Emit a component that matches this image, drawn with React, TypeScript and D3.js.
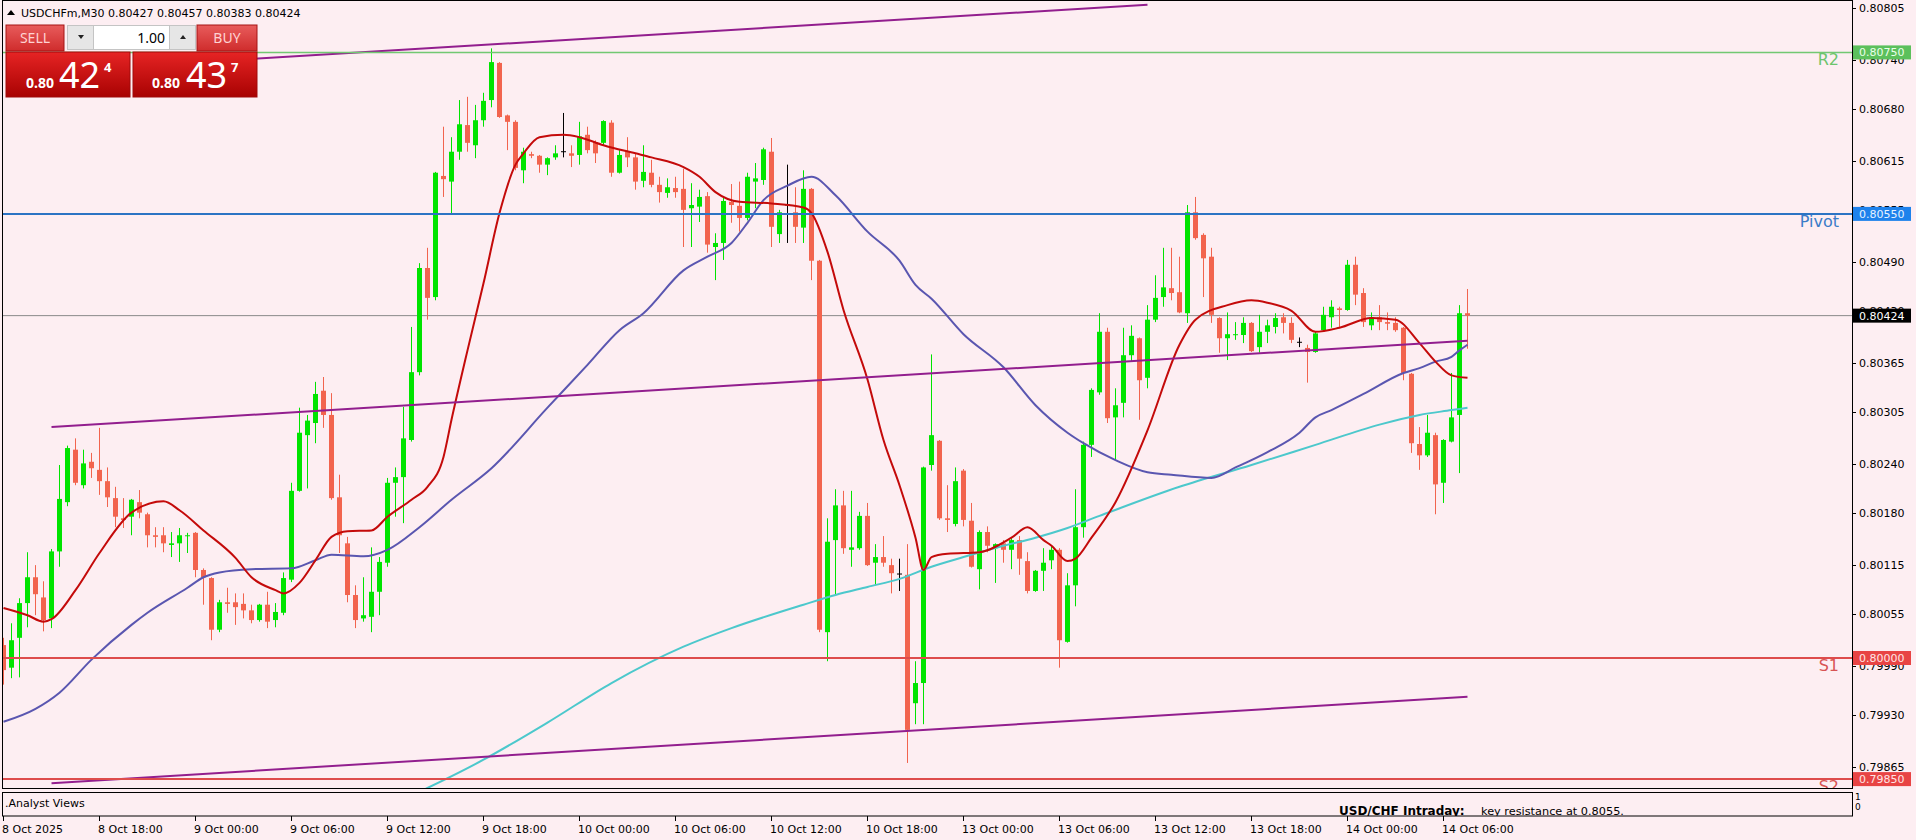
import React, { useEffect } from "react";
import * as d3 from "d3";

// ---------- DATA ----------
const symbolTitle = "USDCHFm,M30";

const opens = [
  0.80016,0.79988,0.80025,0.80068,0.80100,0.80075,0.80049,0.80132,0.80193,0.80258,
  0.80214,0.80243,0.80233,0.80219,0.80198,0.80173,0.80175,0.80193,0.80178,0.80152,
  0.80152,0.80140,0.80142,0.80151,0.80155,0.80109,0.80099,0.80035,0.80069,0.80069,
  0.80067,0.80059,0.80047,0.80066,0.80047,0.80056,0.80097,0.80207,0.80276,0.80291,
  0.80331,0.80301,0.80199,0.80142,0.80078,0.80049,0.80051,0.80082,0.80118,0.80217,
  0.80224,0.80270,0.80354,0.80483,0.80447,0.80597,0.80590,0.80627,0.80660,0.80635,
  0.80666,0.80691,0.80737,0.80672,0.80664,0.80604,0.80624,0.80622,0.80611,0.80620,
  0.80627,0.80625,0.80623,0.80648,0.80639,0.80638,0.80663,0.80601,0.80627,0.80620,
  0.80591,0.80601,0.80586,0.80576,0.80582,0.80581,0.80557,0.80559,0.80572,0.80509,
  0.80514,0.80565,0.80560,0.80545,0.80590,0.80592,0.80627,0.80525,0.80561,0.80552,
  0.80533,0.80581,0.80492,0.80032,0.80146,0.80189,0.80134,0.80136,0.80176,0.80118,
  0.80125,0.80115,0.80104,0.80103,0.79944,0.79969,0.80239,0.80269,0.80173,0.80166,
  0.80232,0.80170,0.80110,0.80156,0.80136,0.80142,0.80134,0.80146,0.80120,0.80083,
  0.80108,0.80121,0.80134,0.80020,0.80090,0.80162,0.80264,0.80329,0.80404,0.80298,
  0.80316,0.80375,0.80396,0.80347,0.80419,0.80447,0.80458,0.80453,0.80427,0.80552,
  0.80524,0.80497,0.80421,0.80396,0.80400,0.80400,0.80415,0.80385,0.80404,0.80410,
  0.80422,0.80415,0.80391,0.80384,0.80379,0.80406,0.80422,0.80433,0.80431,0.80487,
  0.80452,0.80412,0.80422,0.80416,0.80415,0.80409,0.80352,0.80265,0.80251,0.80276,
  0.80217,0.80268,0.80301,0.80427,
];
const highs = [
  0.80025,0.80043,0.80074,0.80131,0.80115,0.80095,0.80135,0.80239,0.80263,0.80272,
  0.80258,0.80254,0.80285,0.80236,0.80212,0.80198,0.80197,0.80208,0.80180,0.80162,
  0.80162,0.80156,0.80161,0.80155,0.80156,0.80111,0.80100,0.80072,0.80087,0.80080,
  0.80080,0.80066,0.80067,0.80082,0.80068,0.80106,0.80217,0.80310,0.80301,0.80342,
  0.80348,0.80328,0.80227,0.80150,0.80090,0.80100,0.80137,0.80125,0.80223,0.80236,
  0.80311,0.80410,0.80489,0.80508,0.80602,0.80658,0.80645,0.80691,0.80695,0.80685,
  0.80700,0.80755,0.80738,0.80673,0.80666,0.80632,0.80627,0.80623,0.80620,0.80635,
  0.80675,0.80635,0.80664,0.80658,0.80641,0.80666,0.80666,0.80629,0.80645,0.80625,
  0.80635,0.80617,0.80596,0.80594,0.80596,0.80606,0.80588,0.80580,0.80577,0.80526,
  0.80570,0.80587,0.80590,0.80601,0.80613,0.80632,0.80644,0.80555,0.80611,0.80583,
  0.80604,0.80582,0.80493,0.80173,0.80209,0.80207,0.80207,0.80181,0.80192,0.80141,
  0.80151,0.80123,0.80123,0.80141,0.79996,0.80237,0.80376,0.80270,0.80214,0.80236,
  0.80234,0.80192,0.80158,0.80163,0.80142,0.80146,0.80149,0.80151,0.80131,0.80109,
  0.80136,0.80139,0.80136,0.80105,0.80209,0.80268,0.80334,0.80427,0.80409,0.80334,
  0.80409,0.80412,0.80397,0.80437,0.80474,0.80508,0.80508,0.80497,0.80561,0.80571,
  0.80526,0.80508,0.80422,0.80428,0.80416,0.80422,0.80416,0.80425,0.80419,0.80427,
  0.80427,0.80422,0.80397,0.80388,0.80404,0.80435,0.80443,0.80435,0.80493,0.80497,
  0.80458,0.80428,0.80437,0.80428,0.80422,0.80410,0.80353,0.80286,0.80301,0.80279,
  0.80271,0.80353,0.80437,0.80457,
];
const lows = [
  0.79967,0.79975,0.79976,0.80038,0.80053,0.80033,0.80037,0.80113,0.80188,0.80214,
  0.80210,0.80223,0.80202,0.80187,0.80162,0.80161,0.80152,0.80173,0.80137,0.80137,
  0.80131,0.80125,0.80119,0.80130,0.80100,0.80066,0.80022,0.80032,0.80056,0.80041,
  0.80049,0.80043,0.80045,0.80037,0.80038,0.80053,0.80094,0.80206,0.80210,0.80266,
  0.80285,0.80196,0.80130,0.80069,0.80037,0.80045,0.80032,0.80053,0.80113,0.80175,
  0.80167,0.80268,0.80350,0.80419,0.80443,0.80571,0.80551,0.80617,0.80627,0.80619,
  0.80658,0.80682,0.80669,0.80629,0.80604,0.80588,0.80619,0.80601,0.80598,0.80617,
  0.80620,0.80608,0.80611,0.80625,0.80613,0.80635,0.80596,0.80600,0.80608,0.80580,
  0.80583,0.80583,0.80564,0.80570,0.80570,0.80509,0.80509,0.80540,0.80502,0.80468,
  0.80493,0.80539,0.80528,0.80542,0.80557,0.80586,0.80509,0.80514,0.80514,0.80514,
  0.80514,0.80468,0.80032,0.79996,0.80078,0.80129,0.80113,0.80134,0.80114,0.80090,
  0.80113,0.80080,0.80083,0.79870,0.79918,0.79918,0.80232,0.80171,0.80156,0.80163,
  0.80163,0.80112,0.80085,0.80131,0.80093,0.80118,0.80110,0.80103,0.80080,0.80082,
  0.80083,0.80110,0.79988,0.80019,0.80064,0.80149,0.80249,0.80326,0.80291,0.80245,
  0.80298,0.80367,0.80295,0.80334,0.80416,0.80435,0.80443,0.80427,0.80415,0.80518,
  0.80447,0.80415,0.80378,0.80369,0.80394,0.80390,0.80379,0.80378,0.80390,0.80402,
  0.80402,0.80390,0.80385,0.80341,0.80378,0.80404,0.80409,0.80410,0.80430,0.80437,
  0.80410,0.80406,0.80406,0.80406,0.80404,0.80344,0.80254,0.80233,0.80249,0.80178,
  0.80192,0.80267,0.80229,0.80383,
];
const closes = [
  0.79985,0.80022,0.80068,0.80100,0.80079,0.80047,0.80132,0.80197,0.80260,0.80217,
  0.80241,0.80235,0.80219,0.80199,0.80175,0.80171,0.80196,0.80180,0.80152,0.80150,
  0.80142,0.80142,0.80152,0.80152,0.80109,0.80100,0.80035,0.80069,0.80067,0.80063,
  0.80059,0.80047,0.80066,0.80045,0.80057,0.80099,0.80207,0.80279,0.80294,0.80327,
  0.80301,0.80198,0.80152,0.80078,0.80047,0.80053,0.80082,0.80119,0.80217,0.80224,
  0.80272,0.80354,0.80483,0.80446,0.80601,0.80593,0.80627,0.80661,0.80638,0.80666,
  0.80690,0.80738,0.80670,0.80664,0.80607,0.80627,0.80622,0.80611,0.80619,0.80625,
  0.80627,0.80622,0.80646,0.80629,0.80625,0.80665,0.80601,0.80623,0.80620,0.80590,
  0.80602,0.80586,0.80577,0.80583,0.80577,0.80555,0.80561,0.80571,0.80512,0.80514,
  0.80566,0.80561,0.80545,0.80596,0.80594,0.80630,0.80534,0.80552,0.80561,0.80534,
  0.80581,0.80492,0.80035,0.80144,0.80189,0.80136,0.80137,0.80176,0.80115,0.80125,
  0.80118,0.80105,0.80104,0.79911,0.79969,0.80236,0.80276,0.80173,0.80171,0.80219,
  0.80171,0.80113,0.80156,0.80139,0.80141,0.80134,0.80146,0.80123,0.80083,0.80108,
  0.80118,0.80134,0.80022,0.80090,0.80162,0.80264,0.80332,0.80404,0.80297,0.80313,
  0.80375,0.80399,0.80344,0.80419,0.80446,0.80459,0.80452,0.80428,0.80552,0.80520,
  0.80495,0.80425,0.80396,0.80401,0.80401,0.80415,0.80380,0.80404,0.80412,0.80421,
  0.80415,0.80394,0.80391,0.80379,0.80402,0.80425,0.80435,0.80431,0.80487,0.80450,
  0.80416,0.80422,0.80416,0.80414,0.80406,0.80353,0.80266,0.80251,0.80279,0.80215,
  0.80270,0.80298,0.80427,0.80424,
];

// Moving averages at bar indices
const redMaIdx = [0,3,5,6,9,12,16,20,22,25,29,31,34,35,37,39,41,43,46,48,51,53,55,56,58,60,62,64,65,67,70,72,75,79,81,85,87,89,92,96,100,101,103,105,108,110,112,114,115,116,118,122,126,128,130,131,133,134,136,139,143,147,149,153,156,158,161,164,167,171,174,177,179,181,183];
const redMaVal = [0.80062,0.80053,0.80045,0.80048,0.80084,0.80130,0.80180,0.80194,0.80183,0.80158,0.80124,0.80100,0.80084,0.80080,0.80093,0.80121,0.80150,0.80157,0.80158,0.80175,0.80196,0.80212,0.80249,0.80295,0.80381,0.80464,0.80551,0.80611,0.80625,0.80645,0.80648,0.80645,0.80635,0.80625,0.80620,0.80608,0.80596,0.80577,0.80565,0.80563,0.80558,0.80551,0.80503,0.80431,0.80345,0.80270,0.80214,0.80149,0.80109,0.80125,0.80129,0.80131,0.80149,0.80162,0.80146,0.80139,0.80120,0.80123,0.80149,0.80193,0.80282,0.80388,0.80419,0.80437,0.80443,0.80440,0.80430,0.80404,0.80409,0.80421,0.80419,0.80390,0.80367,0.80350,0.80347];

const blueMaIdx = [0,4,7,11,16,18,23,25,27,31,36,39,41,45,48,52,56,61,68,73,77,80,85,88,91,93,95,98,101,104,108,112,114,116,120,125,129,133,135,139,143,146,151,154,158,162,164,166,170,175,177,179,181,182,183];
const blueMaVal = [0.79921,0.79937,0.79957,0.79998,0.80041,0.80056,0.80087,0.80100,0.80106,0.80110,0.80111,0.80121,0.80128,0.80126,0.80134,0.80162,0.80196,0.80235,0.80310,0.80363,0.80406,0.80427,0.80480,0.80497,0.80514,0.80539,0.80567,0.80585,0.80596,0.80573,0.80528,0.80492,0.80462,0.80445,0.80401,0.80360,0.80313,0.80279,0.80266,0.80245,0.80230,0.80227,0.80223,0.80236,0.80255,0.80279,0.80298,0.80307,0.80327,0.80353,0.80359,0.80367,0.80373,0.80381,0.80388];

const cyanMaIdx = [50,53,60,68,76,85,91,100,104,108,112,116,120,125,129,133,137,147,156,164,172,177,181,183];
const cyanMaVal = [0.79825,0.79839,0.79874,0.79920,0.79969,0.80014,0.80037,0.80066,0.80078,0.80088,0.80098,0.80113,0.80125,0.80139,0.80149,0.80161,0.80176,0.80212,0.80239,0.80264,0.80289,0.80301,0.80307,0.80310];

// Channel trendlines
const trendStartIdx = [26, 6, 6];
const trendStartVal = [0.80739, 0.80286, 0.79845];
const trendEndIdx = [143, 183, 183];
const trendEndVal = [0.80809, 0.80393, 0.79952];

// Pivot levels
const levelNames = ["R2", "Pivot", "S1", "S2"];
const levelValues = [0.8075, 0.8055, 0.8, 0.7985];

const priceTicks = [0.80805,0.8074,0.8068,0.80615,0.80555,0.8049,0.8043,0.80365,0.80305,0.8024,0.8018,0.80115,0.80055,0.7999,0.7993,0.79865];

const timeLabels = ["8 Oct 2025","8 Oct 18:00","9 Oct 00:00","9 Oct 06:00","9 Oct 12:00","9 Oct 18:00","10 Oct 00:00","10 Oct 06:00","10 Oct 12:00","10 Oct 18:00","13 Oct 00:00","13 Oct 06:00","13 Oct 12:00","13 Oct 18:00","14 Oct 00:00","14 Oct 06:00"];
const timeIdx = [0,12,24,36,48,60,72,84,96,108,120,132,144,156,168,180];

const bidPrice = 0.80424;
const askPrice = 0.80437;
const lotSize = "1.00";
const analystTitle = "USD/CHF Intraday:";
const analystText = "key resistance at 0.8055.";

// ---------- STYLE ----------
const BG = "#fdeef2";
const BULL = "#00e400";
const BEAR = "#f2644e";
const levelColors = ["#72c872", "#2c74c4", "#de4c4c", "#de4c4c"];
const levelLabelColors = ["#6cc46c", "#3a7cc8", "#d85454", "#d85454"];
const boxColors = ["#5cc05c", "#1e82ec", "#e84444", "#e84444"];
const boxText = ["#eaffea", "#e6f2ff", "#ffe4e4", "#ffe4e4"];
const FONT = "'DejaVu Sans', sans-serif";

export default function App() {
  useEffect(() => {
    document.body.style.margin = "0";
    document.body.style.background = BG;
  }, []);

  const last = opens.length - 1;
  const x = d3.scaleLinear().domain([0, last]).range([3.5, 1467.5]);
  const y = d3.scaleLinear().domain([0.79865, 0.80805]).range([767, 8]);

  const maPath = (idx: number[], val: number[]) =>
    d3
      .line<number>()
      .x((k) => x(idx[k]))
      .y((k) => y(val[k]))
      .curve(d3.curveMonotoneX)(idx.map((_, k) => k)) || "";

  const plotL = 3, plotR = 1852, plotT = 1, plotB = 788;
  const subT = 792.5, subB = 816;

  const fmt = (v: number) => v.toFixed(5);
  const bidStr = fmt(bidPrice);
  const askStr = fmt(askPrice);

  return (
    <svg
      width={1916}
      height={840}
      style={{ position: "absolute", left: 0, top: 0, background: BG, fontFamily: FONT }}
    >
      <defs>
        <clipPath id="plot">
          <rect x={plotL} y={plotT} width={plotR - plotL} height={plotB - plotT} />
        </clipPath>
        <clipPath id="sub">
          <rect x={plotL} y={subT} width={plotR - plotL} height={subB - subT} />
        </clipPath>
        <linearGradient id="hdr" x1="0" y1="0" x2="0" y2="1">
          <stop offset="0%" stopColor="#e85c5c" />
          <stop offset="100%" stopColor="#cf2c2c" />
        </linearGradient>
        <linearGradient id="pbox" x1="0" y1="0" x2="0" y2="1">
          <stop offset="0%" stopColor="#e62424" />
          <stop offset="100%" stopColor="#a80202" />
        </linearGradient>
      </defs>

      <rect x={0} y={0} width={1916} height={840} fill={BG} />

      <g clipPath="url(#plot)">
        {/* current price line */}
        <line x1={plotL} x2={plotR} y1={y(closes[last])} y2={y(closes[last])} stroke="#8a8a8a" strokeWidth={1} />

        {/* candles */}
        {opens.map((o, i) => {
          const c = closes[i];
          const col = c > o ? BULL : c < o ? BEAR : "#000";
          const cx = x(i);
          const top = y(Math.max(o, c));
          const bot = y(Math.min(o, c));
          return (
            <g key={i}>
              <line x1={cx} x2={cx} y1={y(highs[i])} y2={y(lows[i])} stroke={col} strokeWidth={1} />
              {c === o ? (
                <line x1={cx - 2.5} x2={cx + 2.5} y1={top} y2={top} stroke={col} strokeWidth={1} />
              ) : (
                <rect x={cx - 2.5} y={top} width={5} height={Math.max(1, bot - top)} fill={col} />
              )}
            </g>
          );
        })}

        {/* moving averages */}
        <path d={maPath(cyanMaIdx, cyanMaVal)} fill="none" stroke="#4cc8cc" strokeWidth={2} />
        <path d={maPath(blueMaIdx, blueMaVal)} fill="none" stroke="#5a56b0" strokeWidth={2} />
        <path d={maPath(redMaIdx, redMaVal)} fill="none" stroke="#c40a0a" strokeWidth={2} />

        {/* channel */}
        {trendStartIdx.map((s, k) => (
          <line
            key={k}
            x1={x(s)}
            y1={y(trendStartVal[k])}
            x2={x(trendEndIdx[k])}
            y2={y(trendEndVal[k])}
            stroke="#921e8e"
            strokeWidth={2}
          />
        ))}

        {/* pivot levels */}
        {levelValues.map((v, k) => (
          <g key={k}>
            <line x1={plotL} x2={plotR} y1={y(v)} y2={y(v)} stroke={levelColors[k]} strokeWidth={k === 0 ? 1.5 : 2} />
            <text x={1839} y={y(v) + 13} textAnchor="end" fontSize={16} fill={levelLabelColors[k]}>
              {levelNames[k]}
            </text>
          </g>
        ))}
      </g>

      {/* frames */}
      <rect x={2.5} y={0.5} width={1850} height={788} fill="none" stroke="#000" strokeWidth={1} />
      <rect x={2.5} y={subT} width={1850} height={subB - subT} fill="none" stroke="#000" strokeWidth={1} />

      {/* header text */}
      <path d="M7,15 L11,10 L15,15 Z" fill="#000" />
      <text x={21} y={17} fontSize={11} fill="#000">
        {`${symbolTitle}  ${fmt(opens[last])} ${fmt(highs[last])} ${fmt(lows[last])} ${fmt(closes[last])}`}
      </text>

      {/* trade panel */}
      <g>
        <rect x={6} y={25} width={58} height={26} fill="url(#hdr)" stroke="#a51414" strokeWidth={1} />
        <text x={35} y={43} textAnchor="middle" fontSize={14} fill="#ffd2d2" fontFamily="'Noto Sans', sans-serif">SELL</text>
        <rect x={197} y={25} width={60} height={26} fill="url(#hdr)" stroke="#a51414" strokeWidth={1} />
        <text x={227} y={43} textAnchor="middle" fontSize={14} fill="#ffd2d2" fontFamily="'Noto Sans', sans-serif">BUY</text>
        <rect x={67.5} y={25.5} width={128} height={24} fill="#fff" stroke="#c4c4c4" strokeWidth={1} />
        <rect x={67.5} y={25.5} width={26} height={24} fill="#e6e6e6" stroke="#c4c4c4" strokeWidth={1} />
        <rect x={169.5} y={25.5} width={26} height={24} fill="#e6e6e6" stroke="#c4c4c4" strokeWidth={1} />
        <path d="M78,35 L84,35 L81,39 Z" fill="#222" />
        <path d="M180,39 L186,39 L183,35 Z" fill="#222" />
        <text x={165} y={43} textAnchor="end" fontSize={14} fill="#000" fontFamily="'Noto Sans', sans-serif">{lotSize}</text>

        <rect x={6} y={52} width={124} height={45} fill="url(#pbox)" stroke="#a00a0a" strokeWidth={1} />
        <rect x={133} y={52} width={124} height={45} fill="url(#pbox)" stroke="#a00a0a" strokeWidth={1} />
        <g fill="#fff" fontFamily="'Noto Sans', sans-serif">
          <text x={26} y={88} fontSize={14} fontWeight="bold">{bidStr.slice(0, 4)}</text>
          <text x={59} y={88} fontSize={36}>{bidStr.slice(4, 6)}</text>
          <text x={104} y={72} fontSize={13} fontWeight="bold">{bidStr.slice(6)}</text>
          <text x={152} y={88} fontSize={14} fontWeight="bold">{askStr.slice(0, 4)}</text>
          <text x={186} y={88} fontSize={36}>{askStr.slice(4, 6)}</text>
          <text x={231} y={72} fontSize={13} fontWeight="bold">{askStr.slice(6)}</text>
        </g>
      </g>

      {/* price axis */}
      <g fontSize={11} fill="#000">
        {priceTicks.map((v, k) => (
          <g key={k}>
            <line x1={1852} x2={1856} y1={Math.round(y(v)) + 0.5} y2={Math.round(y(v)) + 0.5} stroke="#000" />
            <text x={1859} y={y(v) + 4}>{fmt(v)}</text>
          </g>
        ))}
      </g>
      {levelValues.map((v, k) => (
        <g key={k}>
          <rect x={1853} y={y(v) - 7} width={58} height={14} fill={boxColors[k]} />
          <text x={1859} y={y(v) + 4} fontSize={11} fill={boxText[k]}>{fmt(v)}</text>
        </g>
      ))}
      <rect x={1853} y={y(closes[last]) - 7} width={58} height={14} fill="#000" />
      <text x={1859} y={y(closes[last]) + 4} fontSize={11} fill="#fff">{fmt(closes[last])}</text>

      {/* sub window */}
      <g clipPath="url(#sub)">
        <text x={5} y={807} fontSize={11} fill="#000">.Analyst Views</text>
        <text x={1339} y={815} fontSize={12} fontWeight="bold" fill="#000" textDecoration="underline">
          {analystTitle}
        </text>
        <text x={1481} y={815} fontSize={11.3} fill="#000">{analystText}</text>
      </g>
      <text x={1855} y={800} fontSize={9} fill="#000">1</text>
      <text x={1855} y={810} fontSize={9} fill="#000">0</text>

      {/* time axis */}
      <g fontSize={11} fill="#000">
        {timeIdx.map((ti, k) => (
          <g key={k}>
            <line x1={x(ti)} x2={x(ti)} y1={subB} y2={subB + 5} stroke="#000" />
            <text x={x(ti) - 1.5} y={833}>{timeLabels[k]}</text>
          </g>
        ))}
      </g>
    </svg>
  );
}
